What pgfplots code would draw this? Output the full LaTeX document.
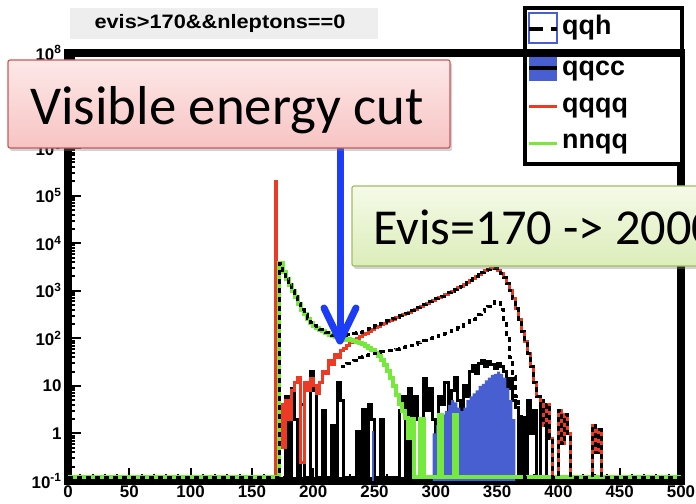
\documentclass[border=0pt]{standalone}
\usepackage{pgfplots}
\pgfplotsset{compat=1.18}
\usepackage{fontspec}
\setmainfont{Liberation Sans}
\newfontfamily\carlito{Carlito}
\usetikzlibrary{shadows}
\newcommand{\tl}[1]{{\bfseries\fontsize{17}{17}\selectfont #1}}
\definecolor{qred}{RGB}{236,58,36}
\definecolor{qgreen}{RGB}{118,234,60}
\definecolor{qblue}{RGB}{72,95,210}
\definecolor{arrowblue}{RGB}{28,60,248}
\definecolor{pinktop}{RGB}{253,232,232}
\definecolor{pinkbot}{RGB}{247,196,195}
\definecolor{pinkedge}{RGB}{200,90,88}
\definecolor{greentop}{RGB}{245,250,232}
\definecolor{greenbot}{RGB}{220,237,185}
\definecolor{greenedge}{RGB}{160,190,100}
\definecolor{titlegray}{RGB}{238,238,238}
\begin{document}
\begin{tikzpicture}
\useasboundingbox (0,0) rectangle (696bp,504bp);
\clip (0,0) rectangle (696bp,504bp);
\begin{axis}[
  at={(68bp,23bp)}, anchor=south west,
  scale only axis, width=613bp, height=428bp,
  xmin=0, xmax=500, ymode=log, ymin=0.1, ymax=1e8,
  axis line style={line width=8bp},
  tick align=inside, tick pos=left,
  xtick={0,50,100,150,200,250,300,350,400,450,500},
  xticklabels={\tl{0},\tl{50},\tl{100},\tl{150},\tl{200},\tl{250},\tl{300},\tl{350},\tl{400},\tl{450},\tl{500}},
  minor x tick num=4,
  ytick={0.1,1,10,100,1000,10000,100000,1000000,10000000,100000000},
  yticklabels={\tl{10\textsuperscript{-1}},\tl{1},\tl{10},\tl{10\textsuperscript{2}},\tl{10\textsuperscript{3}},\tl{10\textsuperscript{4}},\tl{10\textsuperscript{5}},\tl{10\textsuperscript{6}},\tl{10\textsuperscript{7}},\tl{10\textsuperscript{8}}},
  minor ytick={0.2,0.3,0.4,0.5,0.6,0.7,0.8,0.9,2,3,4,5,6,7,8,9,20,30,40,50,60,70,80,90,200,300,400,500,600,700,800,900,2000,3000,4000,5000,6000,7000,8000,9000,20000,30000,40000,50000,60000,70000,80000,90000,200000,300000,400000,500000,600000,700000,800000,900000,2000000,3000000,4000000,5000000,6000000,7000000,8000000,9000000,20000000,30000000,40000000,50000000,60000000,70000000,80000000,90000000},
  major tick length=13bp, minor tick length=7bp,
  every tick/.style={black, line width=2bp},
  yticklabel style={xshift=-3bp},
  xticklabel style={yshift=-1bp},
]
% black noisy outline
\addplot[black, line width=3bp, const plot mark left] coordinates {
(175,0.12)(177.5,6)(180,0.12)(182.5,9)(185,2)(187.5,0.12)(190,4)(192.5,0.12)(197.5,20)(200,8)(202.5,0.12)(207.5,3)(210,0.12)(215,1.5)(217.5,0.12)(220,12)(222.5,5)(225,0.12)(235,1.1)(237.5,0.12)(240,3.2)(242.5,0.12)(245,4)(247.5,2)(250,0.12)(255,2)(257.5,0.12)(270,3)(272.5,6)(275,0.12)(277.5,9)(280,0.12)(282.5,6)(285,2)(287.5,0.12)(290,14)(292.5,3)(295,9)(297.5,2)(300,0.5)(302.5,6)(305,4)(307.5,12)(310,3)(312.5,8)(315,15)(317.5,5)(320,1)(322.5,10)(325,6)(327.5,20)(330,27)(332.5,18)(335,30)(337.5,34)(340,25)(342.5,32)(345,28)(347.5,23)(350,30)(352.5,25)(355,20)(357.5,9)(360,14)(362.5,5)(365,3.5)(367.5,0.12)(370,2.2)(372.5,0.12)(375,5)(377.5,1)(380,3)(382.5,0.12)(385,5)(387.5,2)(390,0.12)(392.5,0.12)};
% qqcc blue filled
\addplot[fill=qblue, draw=none, const plot mark left] coordinates {
(297.5,0.1)(297.5,1)(300,1.5)(302.5,2)(305,2.5)(307.5,3)(310,4)(312.5,5)(315,4.5)(317.5,3.5)(320,3)(322.5,3.5)(325,5)(327.5,6)(330,7)(332.5,8)(335,10)(337.5,11)(340,13)(342.5,15)(345,17)(347.5,18)(350,20)(352.5,18)(355,15)(357.5,9)(360,5)(362.5,2)(365,2)(365,0.1)};
\addplot[qblue, line width=2bp] coordinates {(249,0.1)(249,1.1)};
% qqqq red
\addplot[qred, line width=3bp, const plot mark left] coordinates {
(0,0.12)(169.5,200000)(170.2,0.3)(172.5,4)(175,0.5)(177.5,5)(180,2)(182.5,8)(185,12)(187.5,15)(190,0.25)(192.5,12)(195,8)(197.5,14)(200,10)(202.5,7)(205,12)(207.5,20)(210,18)(212.5,35)(215,28)(217.5,45)(220,40)(222.5,55)(225,60)(227.5,70)(230,80)(232.5,90)(235,100)(237.5,110)(240,118)(242.5,128)(245,140)(247.5,150)(250,165)(252.5,180)(255,195)(257.5,210)(260,225)(262.5,240)(265,255)(267.5,275)(270,295)(272.5,315)(275,335)(277.5,355)(280,380)(282.5,410)(285,440)(287.5,470)(290,510)(292.5,550)(295,590)(297.5,630)(300,680)(302.5,720)(305,770)(307.5,830)(310,900)(312.5,980)(315,1060)(317.5,1150)(320,1250)(322.5,1370)(325,1500)(327.5,1650)(330,1800)(332.5,1950)(335,2150)(337.5,2400)(340,2650)(342.5,2850)(345,3000)(347.5,2950)(350,2700)(352.5,2300)(355,1900)(357.5,1400)(360,1000)(362.5,680)(365,420)(367.5,250)(370,140)(372.5,85)(375,48)(377.5,25)(380,12)(382.5,6)(385,4)(387.5,1.5)(390,4)(392.5,0.8)(395,0.12)(400,3)(402.5,0.6)(405,2.5)(407.5,1)(410,0.12)(427.5,1.5)(430,0.4)(432.5,1.2)(435,0.12)(500,0.12)};
% nnqq green
\addplot[qgreen, line width=4bp, const plot mark left] coordinates {
(0,0.12)(172.5,3800)(175,2500)(177.5,1800)(180,1350)(182.5,1000)(185,750)(187.5,540)(190,400)(192.5,320)(195,260)(197.5,215)(200,185)(202.5,165)(205,150)(207.5,140)(210,130)(212.5,120)(215,112)(217.5,105)(220,100)(222.5,95)(225,92)(227.5,95)(230,92)(232.5,88)(235,84)(237.5,80)(240,75)(242.5,70)(245,63)(247.5,56)(250,50)(252.5,43)(255,35)(257.5,28)(260,21)(262.5,15)(265,10)(267.5,6.5)(270,4.2)(272.5,3)(275,2.1)(277.5,0.8)(280,2)(282.5,0.12)(287.5,2)(290,0.12)(302.5,2.5)(305,0.12)(315,2.5)(317.5,0.12)(500,0.12)};
% lower dashed
\addplot[black, line width=3bp, dash pattern=on 5bp off 4bp, const plot mark left] coordinates {
(222.5,25)(225,28)(227.5,30)(230,33)(232.5,35)(235,37)(237.5,39)(240,41)(242.5,43)(245,45)(247.5,47)(250,49)(252.5,50)(255,52)(257.5,54)(260,55)(262.5,55)(265,57)(267.5,59)(270,61)(272.5,63)(275,66)(277.5,69)(280,72)(282.5,76)(285,80)(287.5,84)(290,88)(292.5,92)(295,97)(297.5,102)(300,108)(302.5,114)(305,120)(307.5,128)(310,136)(312.5,145)(315,155)(317.5,167)(320,180)(322.5,195)(325,212)(327.5,232)(330,255)(332.5,285)(335,320)(337.5,360)(340,410)(342.5,470)(345,540)(347.5,600)(350,560)(352.5,400)(355,220)(357.5,100)(360,40)(362.5,16)(365,6)(367.5,2.5)(370,1)(372.5,0.12)(375,0.12)};
% upper dashed (total)
\addplot[black, line width=3bp, dash pattern=on 5bp off 4bp, const plot mark left] coordinates {
(0,0.12)(172.5,3800)(175,2500)(177.5,1800)(180,1350)(182.5,1000)(185,750)(187.5,540)(190,400)(192.5,320)(195,260)(197.5,215)(200,185)(202.5,165)(205,150)(207.5,140)(210,130)(212.5,120)(215,112)(217.5,108)(220,106)(222.5,110)(225,115)(227.5,118)(230,120)(232.5,125)(235,130)(237.5,135)(240,140)(242.5,150)(245,160)(247.5,170)(250,182)(252.5,195)(255,208)(257.5,220)(260,235)(262.5,248)(265,262)(267.5,280)(270,298)(272.5,318)(275,338)(277.5,358)(280,383)(282.5,412)(285,442)(287.5,472)(290,512)(292.5,552)(295,592)(297.5,632)(300,682)(302.5,722)(305,772)(307.5,832)(310,902)(312.5,982)(315,1062)(317.5,1152)(320,1252)(322.5,1372)(325,1502)(327.5,1652)(330,1802)(332.5,1952)(335,2152)(337.5,2402)(340,2652)(342.5,2852)(345,3000)(347.5,2950)(350,2700)(352.5,2300)(355,1900)(357.5,1400)(360,1000)(362.5,680)(365,420)(367.5,250)(370,140)(372.5,85)(375,48)(377.5,25)(380,12)(382.5,6)(385,4)(387.5,1.5)(390,4)(392.5,0.8)(395,0.12)(400,3)(402.5,0.6)(405,2.5)(407.5,1)(410,0.12)(427.5,1.5)(430,0.4)(432.5,1.2)(435,0.12)(500,0.12)};
\end{axis}
\begin{scope}[x=1bp, y=-1bp, yshift=504bp]
% title
\fill[titlegray] (70,8) rectangle (378,39);
\node[anchor=base, inner sep=0] at (220,29) {\scalebox{1.12}[1]{\bfseries\fontsize{19.5}{19.5}\selectfont evis>170\&\&nleptons==0}};
% legend
\draw[line width=3.5bp, fill=white] (525,8) rectangle (682,164);
\draw[line width=2bp, draw=qblue, fill=white] (529,13) rectangle (557,43);
\draw[line width=4bp, black, dash pattern=on 14bp off 8bp] (529,29)--(557,29);
\fill[qblue] (529,55) rectangle (557,81);
\draw[line width=4bp] (529,68)--(557,68);
\draw[line width=3bp, qred] (529,107)--(557,107);
\draw[line width=3bp, qgreen] (529,144)--(557,144);
\node[anchor=base west, inner sep=0] at (562,35) {\bfseries\fontsize{27}{27}\selectfont qqh};
\node[anchor=base west, inner sep=0] at (562,76) {\bfseries\fontsize{27}{27}\selectfont qqcc};
\node[anchor=base west, inner sep=0] at (562,113) {\bfseries\fontsize{27}{27}\selectfont qqqq};
\node[anchor=base west, inner sep=0] at (562,149) {\bfseries\fontsize{27}{27}\selectfont nnqq};
\draw[line width=8bp] (515,53)--(685,53);
% arrow
\draw[arrowblue, line width=7bp, line cap=round] (340,140)--(340,338);
\draw[arrowblue, line width=7bp, line cap=round, line join=round] (324,308)--(340,341)--(356,308);
% pink box
\draw[pinkedge, line width=1.2bp, rounded corners=2bp, top color=pinktop, bottom color=pinkbot,
      drop shadow={shadow xshift=2bp, shadow yshift=-3bp, opacity=0.35}] (8,60) rectangle (450,148);
\node[anchor=base west, inner sep=0] at (30,125) {\carlito\fontsize{55}{55}\selectfont Visible energy cut};
% green box
\draw[greenedge, line width=1.2bp, rounded corners=2bp, top color=greentop, bottom color=greenbot,
      drop shadow={shadow xshift=2bp, shadow yshift=-3bp, opacity=0.35}] (352,186) rectangle (740,266);
\node[anchor=base west, inner sep=0] at (373,245) {\carlito\fontsize{50.5}{50.5}\selectfont Evis=170 -> 2000};
\end{scope}
\end{tikzpicture}
\end{document}
